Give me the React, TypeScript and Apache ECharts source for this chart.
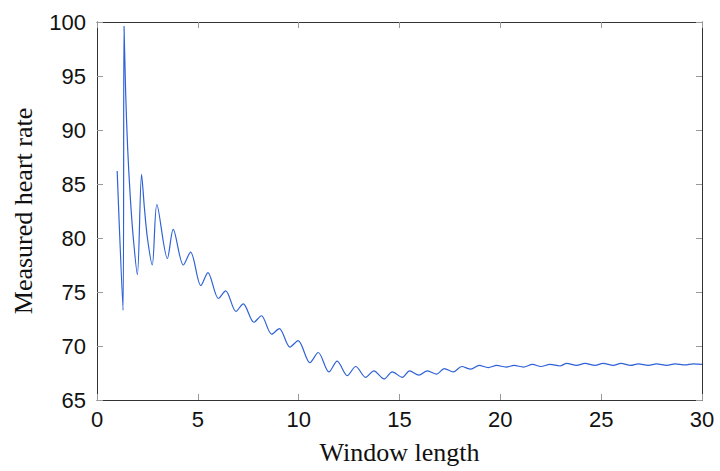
import React, { useEffect, useRef } from "react";
import * as echarts from "echarts";

const windowLength: number[] = [
  1.0, 1.29, 1.34, 1.42, 1.52, 1.65, 1.8, 2.0, 2.21, 2.35, 2.5, 2.74, 2.97, 3.49, 3.78, 4.28, 4.64,
  5.15, 5.5, 6.02, 6.38, 6.89, 7.25, 7.78, 8.15, 8.66, 9.04, 9.57, 9.97, 10.56, 10.97,
  11.5, 11.91, 12.41, 12.83, 13.32, 13.73, 14.23, 14.64, 15.14, 15.5, 15.96, 16.38,
  16.84, 17.22, 17.67, 18.08, 18.54, 18.95, 19.4, 19.82, 20.28, 20.69, 21.14, 21.6,
  22.01, 22.46, 22.96, 23.29, 23.78, 24.2, 24.69, 25.1, 25.6, 25.98, 26.46, 26.84,
  27.34, 27.75, 28.25, 28.66, 29.16, 29.57, 30.0,
];

const heartRate: number[] = [
  86.2, 73.3, 99.6, 93.5, 88.3, 83.8, 80.0, 76.6, 85.9, 82.8, 80.0, 77.5, 83.1, 78.1, 80.8, 77.5, 78.7,
  75.6, 76.8, 74.4, 75.1, 73.2, 73.9, 72.2, 72.8, 71.1, 71.6, 69.9, 70.5, 68.45, 69.4,
  67.6, 68.6, 67.25, 68.1, 67.1, 67.7, 66.95, 67.6, 67.1, 67.7, 67.3, 67.7,
  67.4, 67.9, 67.6, 68.1, 67.85, 68.2, 68.0, 68.2, 68.05, 68.2, 68.05, 68.3,
  68.1, 68.3, 68.15, 68.4, 68.2, 68.4, 68.2, 68.4, 68.2, 68.4, 68.2, 68.35,
  68.2, 68.35, 68.2, 68.35, 68.25, 68.35, 68.3,
];

const xMin = 0;
const xMax = 30;
const xStep = 5;
const yMin = 65;
const yMax = 100;
const yStep = 5;

export default function App() {
  const ref = useRef<HTMLDivElement>(null);

  useEffect(() => {
    if (!ref.current) return;
    const chart = echarts.init(ref.current, null, { renderer: "svg" });
    const sans = "Liberation Sans";
    const serif = "Liberation Serif";
    const lineColor = "#333";
    const tickColor = "#999";
    const baseX = {
      type: "value" as const,
      min: xMin,
      max: xMax,
      interval: xStep,
      splitLine: { show: false },
      axisLine: { show: true, onZero: false, lineStyle: { color: lineColor, width: 1 } },
      axisTick: { show: true, inside: true, length: 6, lineStyle: { color: tickColor } },
    };
    const baseY = {
      type: "value" as const,
      min: yMin,
      max: yMax,
      interval: yStep,
      splitLine: { show: false },
      axisLine: { show: true, onZero: false, lineStyle: { color: lineColor, width: 1 } },
      axisTick: { show: true, inside: true, length: 6, lineStyle: { color: tickColor } },
    };
    chart.setOption({
      animation: false,
      backgroundColor: "#fff",
      grid: { left: 97, right: 18, top: 22, bottom: 71, containLabel: false },
      xAxis: [
        {
          ...baseX,
          position: "bottom",
          name: "Window length",
          nameLocation: "middle",
          nameGap: 39,
          nameTextStyle: { fontFamily: serif, fontSize: 26, color: "#111" },
          axisLabel: { fontFamily: sans, fontSize: 22, color: "#111", margin: 8 },
        },
        {
          ...baseX,
          position: "top",
          axisLabel: { show: false },
        },
      ],
      yAxis: [
        {
          ...baseY,
          position: "left",
          name: "Measured heart rate",
          nameLocation: "middle",
          nameGap: 61,
          nameTextStyle: { fontFamily: serif, fontSize: 26, color: "#111" },
          axisLabel: { fontFamily: sans, fontSize: 22, color: "#111", margin: 11 },
        },
        {
          ...baseY,
          position: "right",
          axisLabel: { show: false },
        },
      ],
      series: [
        {
          type: "line",
          data: windowLength.map((x, i) => [x, heartRate[i]]),
          xAxisIndex: 0,
          yAxisIndex: 0,
          showSymbol: false,
          smooth: 0.3,
          lineStyle: { color: "#2f62d6", width: 1.2 },
        },
      ],
    });
    return () => chart.dispose();
  }, []);

  return <div ref={ref} style={{ width: 720, height: 471, position: "absolute", left: 0, top: 0 }} />;
}
